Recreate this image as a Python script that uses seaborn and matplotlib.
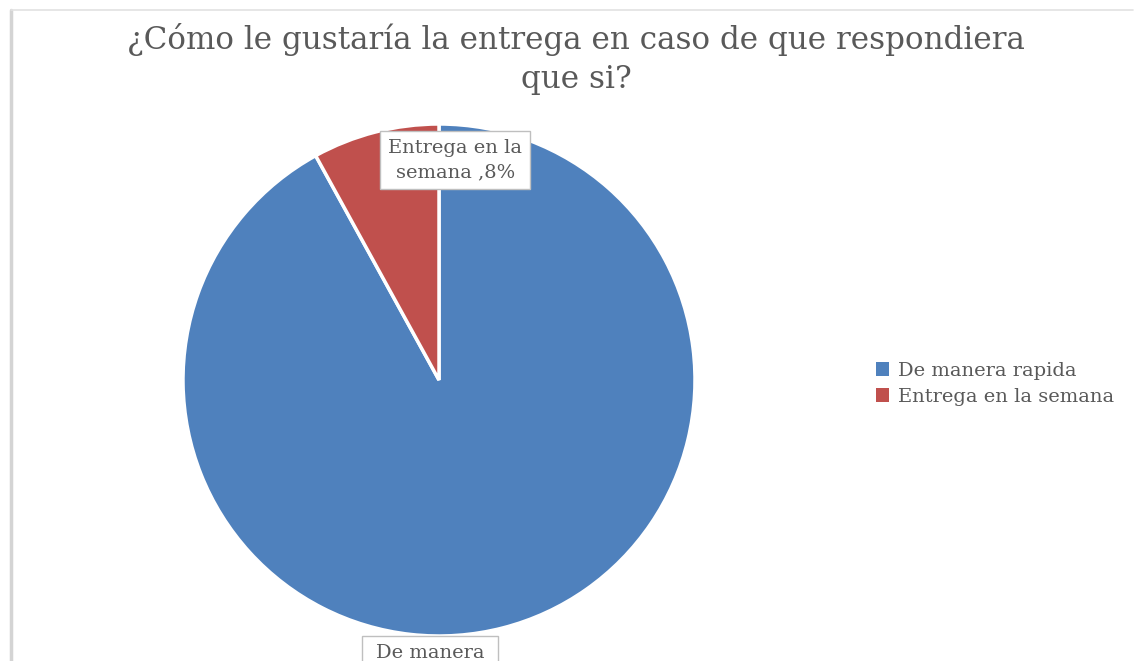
import matplotlib
matplotlib.use("Agg")
import matplotlib.pyplot as plt
from matplotlib.lines import Line2D
from matplotlib.patches import Patch
import seaborn as sns

# Survey answers
categories = ["De manera rapida", "Entrega en la semana"]
values = [92, 8]
slice_labels = ["De manera\nrapida ,92%", "Entrega en la\nsemana ,8%"]
title = "¿Cómo le gustaría la entrega en caso de que respondiera\nque si?"

sns.set_theme(style="white")
plt.rcParams["font.family"] = ["DejaVu Serif", "DejaVu Sans"]
colors = ["#4F81BD", "#C0504D"]
text_color = "#595959"

W, H = 1138, 661
fig = plt.figure(figsize=(W / 100, H / 100), dpi=100)
fig.patch.set_facecolor("white")

# chart frame (left and top edges)
fig.add_artist(Line2D([11 / W, 11 / W], [0, 1 - 10 / H], color="#d4d4d4", lw=2.5,
                      transform=fig.transFigure))
fig.add_artist(Line2D([11 / W, 1133 / W], [1 - 10 / H, 1 - 10 / H], color="#e2e2e2", lw=1.2,
                      transform=fig.transFigure))

# pie area: center at (439, 380) px, radius 256 px
cx, cy, r = 439, 380, 256
ax = fig.add_axes([(cx - r) / W, (H - cy - r) / H, 2 * r / W, 2 * r / H])
wedges, _ = ax.pie(values, colors=colors, startangle=90, counterclock=False,
                   wedgeprops=dict(edgecolor="white", linewidth=2.5), radius=1.0)
ax.set_xlim(-1, 1)
ax.set_ylim(-1, 1)
ax.set_aspect("equal")
ax.axis("off")

box = dict(boxstyle="square,pad=0.4", facecolor="white", edgecolor="#bfbfbf", linewidth=1)
ax.text(0.063, 0.858, slice_labels[1], ha="center", va="center", fontsize=14,
        color=text_color, bbox=box, linespacing=1.45, clip_on=False)
ax.text(-0.035, -1.03, slice_labels[0], ha="center", va="top", fontsize=14,
        color=text_color, bbox=box, linespacing=1.6, clip_on=False)

fig.text(576 / W, 1 - 59 / H, title, ha="center", va="center", fontsize=22.3,
         color=text_color, linespacing=1.3)

handles = [Patch(facecolor=c, edgecolor="none") for c in colors]
fig.legend(handles, categories, loc="center left", bbox_to_anchor=(858 / W, 1 - 384 / H),
           frameon=False, fontsize=14, handlelength=0.7, handleheight=0.7,
           handletextpad=0.45, labelspacing=0.42, labelcolor=text_color)

fig.savefig("out.png", dpi=100, facecolor="white")
